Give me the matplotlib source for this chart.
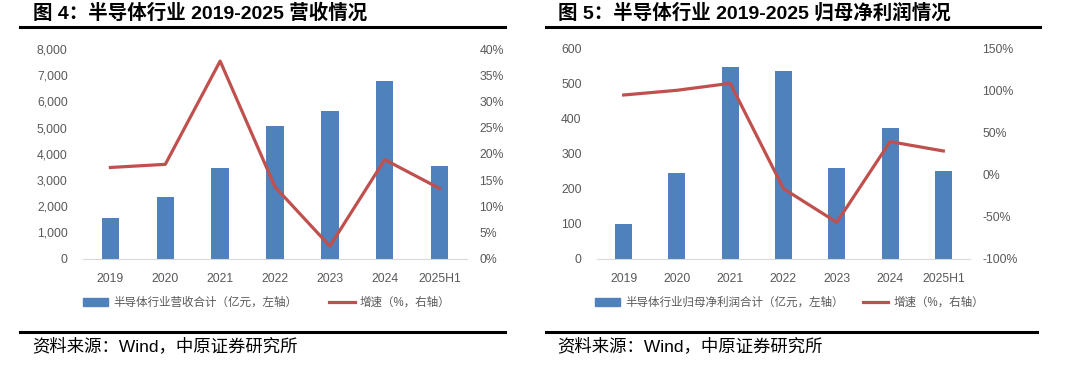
import matplotlib
matplotlib.use("Agg")
import matplotlib.pyplot as plt
from matplotlib.lines import Line2D
from matplotlib.patches import Patch
import numpy as np

plt.rcParams['font.family'] = ['Liberation Sans', 'Noto Sans CJK SC', 'DejaVu Sans']

years = ["2019", "2020", "2021", "2022", "2023", "2024", "2025H1"]

# left chart: revenue (亿元) and growth (%)
revenue = [1564, 2340, 3460, 5062, 5634, 6766, 3536]
revenue_growth = [17.4, 18.0, 37.7, 13.7, 2.4, 18.9, 13.4]

# right chart: net profit attributable to parent (亿元) and growth (%)
profit = [99, 245, 548, 534, 258, 372, 249]
profit_growth = [94.5, 100.1, 108.4, -16.8, -56.8, 39.1, 28.0]

W, H = 1073, 367
BLUE = "#4F81BD"
RED = "#C0504D"
GRAY = "#595959"

fig = plt.figure(figsize=(W / 100, H / 100), dpi=100)


def box(x0, y0, x1, y1):
    # pixel box (top-left origin) -> figure fraction rect
    return [x0 / W, 1 - y1 / H, (x1 - x0) / W, (y1 - y0) / H]


def hline(x0, x1, y, lw=2.2):
    fig.add_artist(Line2D([x0 / W, x1 / W], [1 - y / H, 1 - y / H],
                          color="black", lw=lw, transform=fig.transFigure))


def panel(rect, bars, growth, ylim, yticks, ylab, gticks, glab,
          bar_label, leg_x, colspace):
    ax = fig.add_axes(rect)
    x = np.arange(len(years))
    ax.bar(x, bars, width=0.32, color=BLUE, zorder=2)
    ax.set_xlim(-0.5, len(years) - 0.5)
    ax.set_ylim(*ylim)
    ax.set_yticks(yticks)
    ax.set_yticklabels(ylab)
    ax.set_xticks(x)
    ax.set_xticklabels(years)
    for s in ["top", "right", "left"]:
        ax.spines[s].set_visible(False)
    ax.spines["bottom"].set_color("#D9D9D9")
    ax.tick_params(length=0, labelsize=8.8, labelcolor=GRAY)
    ax.tick_params(axis="x", pad=10)
    ax.tick_params(axis="y", pad=11)

    ax2 = ax.twinx()
    ax2.plot(x, growth, color=RED, lw=2.3, zorder=3)
    ax2.set_ylim(gticks[0], gticks[-1])
    ax2.set_yticks(gticks)
    ax2.set_yticklabels(glab)
    for s in ax2.spines.values():
        s.set_visible(False)
    ax2.tick_params(length=0, labelsize=8.8, labelcolor=GRAY, pad=9)

    handles = [Patch(color=BLUE), Line2D([], [], color=RED, lw=2.3)]
    fig.legend(handles, [bar_label, "增速（%，右轴）"], ncol=2,
               loc="center left", bbox_to_anchor=(leg_x / W, 1 - 303 / H),
               frameon=False, fontsize=8.3, handlelength=2.2,
               handletextpad=0.4, columnspacing=colspace,
               borderpad=0, borderaxespad=0, labelcolor=GRAY)
    return ax


panel(box(83, 49, 467, 258.7), revenue, revenue_growth, (0, 8000),
      range(0, 8001, 1000), [f"{v:,}" for v in range(0, 8001, 1000)],
      list(range(0, 41, 5)), [f"{v}%" for v in range(0, 41, 5)],
      "半导体行业营收合计（亿元，左轴）", 83, 2.8)

panel(box(597, 48.3, 970, 258.7), profit, profit_growth, (0, 600),
      range(0, 601, 100), [str(v) for v in range(0, 601, 100)],
      list(range(-100, 151, 50)), [f"{v}%" for v in range(-100, 151, 50)],
      "半导体行业归母净利润合计（亿元，左轴）", 595, 1.7)

# titles
fig.text(33 / W, 1 - 13 / H, "图 4：半导体行业 2019-2025 营收情况",
         fontsize=14, fontweight="bold", va="center", ha="left")
fig.text(558 / W, 1 - 13 / H, "图 5：半导体行业 2019-2025 归母净利润情况",
         fontsize=14, fontweight="bold", va="center", ha="left")
hline(20, 505, 26.5)
hline(546, 1040, 26.5)

# source lines
hline(20, 505, 332)
hline(546, 1037, 332)
fig.text(32 / W, 1 - 346 / H, "资料来源：Wind，中原证券研究所",
         fontsize=12.5, va="center", ha="left")
fig.text(557 / W, 1 - 346 / H, "资料来源：Wind，中原证券研究所",
         fontsize=12.5, va="center", ha="left")

fig.savefig("out.png", dpi=100, facecolor="white")
